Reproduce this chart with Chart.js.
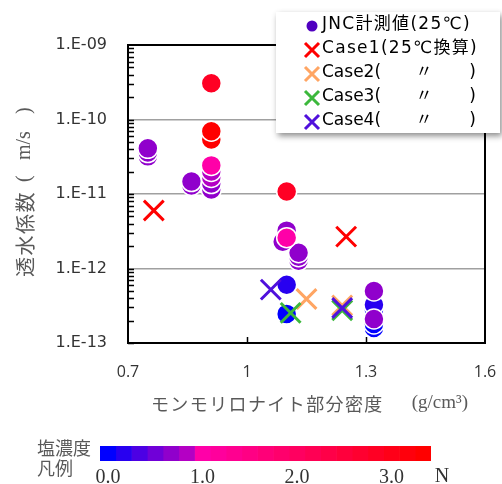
<!DOCTYPE html>
<html>
<head>
<meta charset="utf-8">
<script src="https://cdn.jsdelivr.net/npm/chart.js@4.4.1/dist/chart.umd.min.js"></script>
<style>
  html, body { margin: 0; padding: 0; background: #fff; }
  #wrap { position: relative; width: 502px; height: 484px; overflow: hidden; }
  #main { position: absolute; left: 0; top: 0; }
  #scaleBar { position: absolute; left: 0; top: 425px; }
</style>
</head>
<body>
<div id="wrap">
  <canvas id="main" width="502" height="484"></canvas>
  <canvas id="scaleBar" width="502" height="59"></canvas>
</div>
<script>
// ---- measured hydraulic conductivity (JNC, 25 C) ----
// montmorillonite partial density (g/cm3)
const jncDensity = [
  0.75, 0.75, 0.75,
  0.86, 0.86,
  0.91, 0.91, 0.91, 0.91, 0.91, 0.91, 0.91, 0.91,
  1.10, 1.13, 1.13, 1.13, 1.09, 1.10, 1.10, 1.10, 1.10,
  1.32, 1.32, 1.32, 1.32, 1.32, 1.32
];
// hydraulic conductivity (m/s)
const jncK = [
  3.2e-11, 3.6e-11, 4.1e-11,
  1.3e-11, 1.47e-11,
  1.15e-11, 1.38e-11, 1.67e-11, 2.01e-11, 2.42e-11, 5.4e-11, 6.95e-11, 3.07e-10,
  1.08e-11, 1.27e-12, 1.44e-12, 1.63e-12, 2.29e-12, 3.22e-12, 2.59e-12, 2.46e-13, 6.04e-13,
  1.59e-13, 1.8e-13, 2.78e-13, 3.25e-13, 2.1e-13, 5.0e-13
];
// salt concentration of the permeant (N)
const jncSalt = [
  0.67, 0.67, 0.67,
  0.67, 0.67,
  0.67, 0.67, 0.83, 0.83, 1.0, 3.33, 3.33, 2.83,
  2.83, 0.67, 0.67, 0.67, 0.67, 0.67, 1.0, 0.0, 0.17,
  0.0, 0.0, 0.0, 0.17, 0.67, 0.67
];

// ---- converted analysis cases (25 C) ----
const case1Density = [0.765, 1.25];
const case1K = [6.0e-12, 2.68e-12];
const case2Density = [1.15, 1.24];
const case2K = [3.9e-13, 3.2e-13];
const case3Density = [1.11, 1.24];
const case3K = [2.54e-13, 2.75e-13];
const case4Density = [1.06, 1.24];
const case4K = [5.2e-13, 2.95e-13];

// ---- axes ----
const xTickValues = [0.7, 1.0, 1.3, 1.6];
const xTickLabels = ['0.7', '1', '1.3', '1.6'];
const yTickValues = [1e-13, 1e-12, 1e-11, 1e-10, 1e-9];
const yTickLabels = ['1.E-13', '1.E-12', '1.E-11', '1.E-10', '1.E-09'];

// ---- salt concentration colour key ----
const saltStepsPerN = 6;
const saltColors = [
  '#0000FF', '#2800F0', '#4C00E4', '#7000D8', '#9000CC', '#B400C4', '#FF00A8',
  '#FF009C', '#FF0090', '#FF0084', '#FF0078', '#FF006C', '#FF0060', '#FF0054',
  '#FF0048', '#FF003C', '#FF0030', '#FF0024', '#FF0018', '#FF000C', '#FF0000'
];
const saltTickValues = [0, 1, 2, 3];
const saltTickLabels = ['0.0', '1.0', '2.0', '3.0'];

function saltColor(n) {
  const k = Math.max(0, Math.min(saltColors.length - 1, Math.round(n * saltStepsPerN)));
  return saltColors[k];
}
function pts(xs, ys) { return xs.map((x, i) => ({ x: x, y: ys[i] })); }
function noEdgePadding(s) {
  s.paddingLeft = 0; s.paddingRight = 0; s.paddingTop = 0; s.paddingBottom = 0;
}

const JP = '"Noto Sans CJK JP"';
const TITLE_GRAY = '#595959';
const TICK_GRAY = '#333333';

// frame and inward tick marks of the plot area
const framePlugin = {
  id: 'frame',
  beforeDatasetsDraw(chart) {
    const ctx = chart.ctx, a = chart.chartArea;
    const xs = chart.scales.x, ys = chart.scales.y;
    ctx.save();
    ctx.strokeStyle = '#000';
    ctx.lineWidth = 1.5;
    ctx.beginPath();
    for (let e = -13; e < -9; e++) {
      for (let m = 1; m < 10; m++) {
        const py = Math.round(ys.getPixelForValue(m * Math.pow(10, e))) + 0.5;
        ctx.moveTo(a.left, py);
        ctx.lineTo(a.left + 6, py);
      }
    }
    xTickValues.slice(1, -1).forEach(v => {
      const px = Math.round(xs.getPixelForValue(v)) + 0.5;
      ctx.moveTo(px, a.bottom);
      ctx.lineTo(px, a.bottom - 6);
    });
    ctx.stroke();
    ctx.lineWidth = 2;
    ctx.strokeRect(a.left, a.top, a.right - a.left, a.bottom - a.top);
    ctx.restore();
  }
};

// axis titles and the boxed legend
const overlayPlugin = {
  id: 'overlay',
  afterDraw(chart) {
    const ctx = chart.ctx, a = chart.chartArea;

    // x title
    ctx.save();
    ctx.fillStyle = TITLE_GRAY;
    ctx.textBaseline = 'middle';
    ctx.font = '18px ' + JP;
    ctx.letterSpacing = '1.4px';
    const jp = 'モンモリロナイト部分密度';
    const wJp = ctx.measureText(jp).width;
    ctx.letterSpacing = '0px';
    ctx.font = '19px "Liberation Serif"';
    const unit = '(g/cm³)';
    const wUnit = ctx.measureText(unit).width;
    const gap = 28;
    const start = (a.left + a.right) / 2 + 3 - (wJp + gap + wUnit) / 2;
    ctx.fillText(unit, start + wJp + gap, 403);
    ctx.font = '18px ' + JP;
    ctx.letterSpacing = '1.4px';
    ctx.fillText(jp, start, 404);
    ctx.restore();

    // y title
    ctx.save();
    ctx.fillStyle = TITLE_GRAY;
    ctx.textBaseline = 'middle';
    ctx.translate(25, 277);
    ctx.rotate(-Math.PI / 2);
    ctx.font = '20px ' + JP;
    ctx.letterSpacing = '1.5px';
    ctx.fillText('透水係数', 0, 0);
    ctx.letterSpacing = '0px';
    ctx.font = '20px "Liberation Serif"';
    ctx.fillText('(', 95, 0);
    ctx.fillText('m/s', 117, 0);
    ctx.fillText(')', 163, 0);
    ctx.restore();

    // legend box
    ctx.save();
    ctx.shadowColor = 'rgba(0,0,0,0.45)';
    ctx.shadowBlur = 6;
    ctx.shadowOffsetX = 2;
    ctx.shadowOffsetY = 3;
    ctx.fillStyle = '#fff';
    ctx.fillRect(276, 12, 224, 121);
    ctx.restore();

    ctx.save();
    ctx.textBaseline = 'middle';
    ctx.font = '17px "DejaVu Sans", ' + JP;
    chart.data.datasets.forEach((ds, i) => {
      const y = 25 + i * 24;
      const mx = 312;
      const c = ds.legendColor;
      if (ds.pointStyle === 'circle') {
        ctx.fillStyle = c;
        ctx.beginPath();
        ctx.arc(mx, y + 1, 5.5, 0, Math.PI * 2);
        ctx.fill();
      } else {
        ctx.strokeStyle = c;
        ctx.lineWidth = 3;
        ctx.beginPath();
        ctx.moveTo(mx - 7, y - 6); ctx.lineTo(mx + 7, y + 8);
        ctx.moveTo(mx + 7, y - 6); ctx.lineTo(mx - 7, y + 8);
        ctx.stroke();
      }
      ctx.fillStyle = '#000';
      const label = ds.label;
      const d = label.indexOf('〃');
      if (d < 0) {
        ctx.textAlign = 'left';
        ctx.letterSpacing = '1.3px';
        ctx.fillText(label, 322, y);
        ctx.letterSpacing = '0px';
      } else {
        ctx.textAlign = 'left';
        ctx.fillText(label.slice(0, d), 322, y);
        ctx.textAlign = 'center';
        ctx.fillText('〃', 424, y);
        ctx.textAlign = 'right';
        ctx.fillText(label.slice(d + 1), 476, y);
      }
    });
    ctx.restore();
  }
};

const crossDefaults = { pointStyle: 'crossRot', pointRadius: 14, pointHoverRadius: 14, pointBorderWidth: 3 };

new Chart(document.getElementById('main'), {
  type: 'scatter',
  data: {
    datasets: [
      {
        label: 'JNC計測値(25℃)', data: pts(jncDensity, jncK), order: 5,
        pointStyle: 'circle', pointRadius: 10, pointHoverRadius: 10,
        pointBackgroundColor: jncSalt.map(saltColor), pointBorderColor: '#FFFFFF', pointBorderWidth: 1.5,
        legendColor: '#5000C0'
      },
      Object.assign({ label: 'Case1(25℃換算)', data: pts(case1Density, case1K), order: 4,
        pointBorderColor: '#FF0000', legendColor: '#FF0000' }, crossDefaults),
      Object.assign({ label: 'Case2(〃)', data: pts(case2Density, case2K), order: 3,
        pointBorderColor: '#FFA563', legendColor: '#FFA563' }, crossDefaults),
      Object.assign({ label: 'Case3(〃)', data: pts(case3Density, case3K), order: 2,
        pointBorderColor: '#3CB83C', legendColor: '#3CB83C' }, crossDefaults),
      Object.assign({ label: 'Case4(〃)', data: pts(case4Density, case4K), order: 1,
        pointBorderColor: '#5010DC', legendColor: '#5010DC' }, crossDefaults)
    ]
  },
  options: {
    responsive: false,
    animation: false,
    devicePixelRatio: 1,
    events: [],
    layout: { padding: { left: 8, top: 45, right: 15, bottom: 0 } },
    plugins: { legend: { display: false }, tooltip: { enabled: false } },
    scales: {
      x: {
        type: 'linear', min: 0.7, max: 1.6,
        afterBuildTicks(s) { s.ticks = xTickValues.map(v => ({ value: v })); },
        afterFit(s) { s.height = 141; noEdgePadding(s); },
        ticks: {
          autoSkip: false, maxRotation: 0, padding: 20, color: TICK_GRAY,
          font: { family: '"Open Sans"', size: 16 },
          callback: (v, i) => xTickLabels[i]
        },
        grid: { display: false, drawTicks: false },
        border: { display: false }
      },
      y: {
        type: 'logarithmic', min: 1e-13, max: 1e-9,
        afterBuildTicks(s) { s.ticks = yTickValues.map(v => ({ value: v })); },
        afterFit(s) { s.width = 120; noEdgePadding(s); },
        ticks: {
          autoSkip: false, padding: 21, color: TICK_GRAY,
          font: { family: '"DejaVu Sans"', size: 16 },
          callback: (v, i) => yTickLabels[i]
        },
        grid: {
          drawTicks: false, lineWidth: 1.5,
          color: c => (c.tick && c.tick.value > 1.5e-13 && c.tick.value < 0.9e-9) ? '#A0A0A0' : 'rgba(0,0,0,0)'
        },
        border: { display: false }
      }
    }
  },
  plugins: [framePlugin, overlayPlugin]
});

// colour key for salt concentration
const keyLabelPlugin = {
  id: 'keyLabels',
  afterDraw(chart) {
    const ctx = chart.ctx, a = chart.chartArea;
    ctx.save();
    ctx.fillStyle = TITLE_GRAY;
    ctx.textBaseline = 'middle';
    ctx.font = '18px ' + JP;
    ctx.fillText('塩濃度', 37, 23);
    ctx.fillText('凡例', 37, 43);
    ctx.fillStyle = TICK_GRAY;
    ctx.font = '20px "Liberation Serif"';
    ctx.textAlign = 'center';
    ctx.fillText('N', a.right + 11, 52);
    ctx.restore();
  }
};

const halfStep = 0.5 / saltStepsPerN;
new Chart(document.getElementById('scaleBar'), {
  type: 'bar',
  data: {
    labels: [''],
    datasets: saltColors.map((c, k) => ({
      data: [[k / saltStepsPerN - halfStep, k / saltStepsPerN + halfStep]],
      backgroundColor: c, borderWidth: 0, grouped: false,
      categoryPercentage: 1, barPercentage: 1
    }))
  },
  options: {
    indexAxis: 'y',
    responsive: false,
    animation: false,
    devicePixelRatio: 1,
    events: [],
    layout: { padding: { left: 100, right: 71, top: 21, bottom: 0 } },
    plugins: { legend: { display: false }, tooltip: { enabled: false } },
    scales: {
      x: {
        type: 'linear', min: -halfStep, max: 3.5 - halfStep,
        afterBuildTicks(s) { s.ticks = saltTickValues.map(v => ({ value: v })); },
        afterFit(s) { s.height = 23; noEdgePadding(s); },
        ticks: {
          autoSkip: false, maxRotation: 0, padding: 5, color: TICK_GRAY,
          font: { family: '"Liberation Serif"', size: 20 },
          callback: (v, i) => saltTickLabels[i]
        },
        grid: { display: false, drawTicks: false },
        border: { display: false }
      },
      y: { display: false }
    }
  },
  plugins: [keyLabelPlugin]
});
</script>
</body>
</html>
